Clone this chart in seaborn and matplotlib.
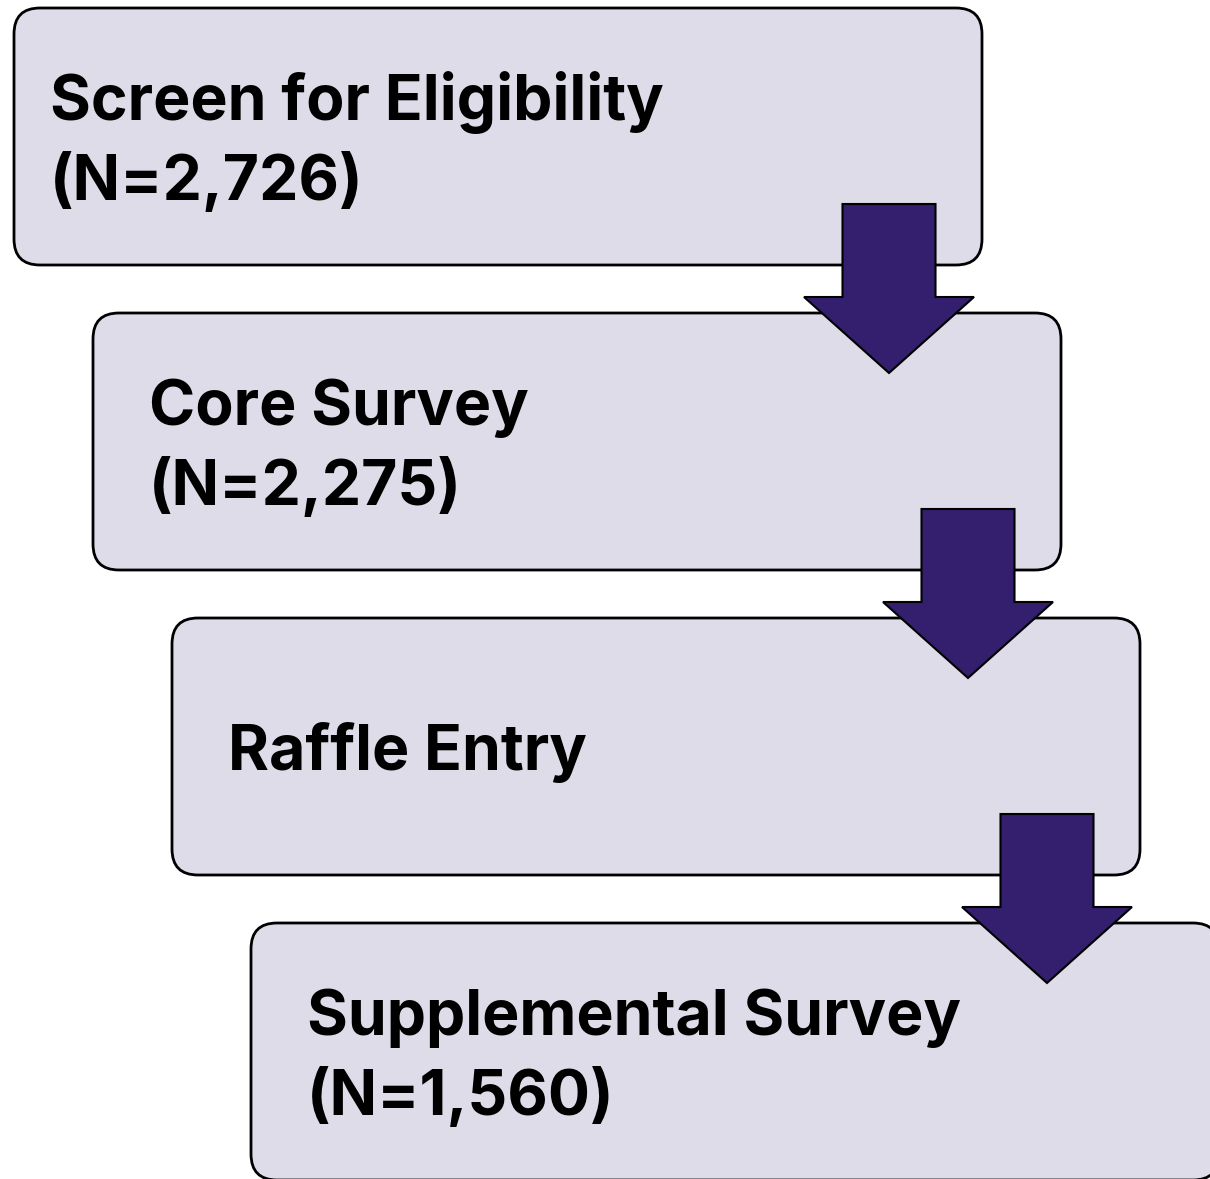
import matplotlib
matplotlib.use("Agg")
import matplotlib.pyplot as plt
import seaborn as sns
from matplotlib.patches import FancyBboxPatch, Polygon

# flow steps and participant counts (None = no count shown)
steps = ["Screen for Eligibility", "Core Survey", "Raffle Entry", "Supplemental Survey"]
counts = [2726, 2275, None, 1560]

box_fill = "#DEDCE8"
arrow_fill = "#341E6E"

sns.set_theme(style="white")
plt.rcParams["font.family"] = ["Inter", "DejaVu Sans"]

fig, ax = plt.subplots(figsize=(12.1, 11.79), dpi=100)
ax.set_position([0, 0, 1, 1])
ax.set_xlim(0, 1210)
ax.set_ylim(1179, 0)
ax.axis("off")

# layout in pixel units
x0, y0 = 14, 8
box_w, box_h = 968, 257
dx, dy = 79, 305
radius = 26
line_gap = 80
cap = 47

for i, (step, n) in enumerate(zip(steps, counts)):
    left = x0 + i * dx
    top = y0 + i * dy
    box = FancyBboxPatch((left + radius, top + radius), box_w - 2 * radius, box_h - 2 * radius,
                         boxstyle=f"round,pad={radius}", facecolor=box_fill,
                         edgecolor="black", linewidth=2, zorder=1)
    ax.add_patch(box)

    lines = [step] if n is None else [step, f"(N={n:,})"]
    pad = 36 if i == 0 else 56
    cy = top + box_h / 2
    for j, line in enumerate(lines):
        base = cy + (j - (len(lines) - 1) / 2) * line_gap + cap / 2
        ax.text(left + pad, base, line, ha="left", va="baseline",
                fontsize=45, fontweight="bold", color="black", zorder=3)

# block arrows between consecutive boxes
shaft_w, head_w, head_h, shaft_len = 93, 170, 76, 93
for i in range(len(steps) - 1):
    left = x0 + i * dx
    top = y0 + i * dy
    cx = left + box_w - 93
    sy = top + box_h - 61
    hy = sy + shaft_len
    pts = [(cx - shaft_w / 2, sy), (cx + shaft_w / 2, sy), (cx + shaft_w / 2, hy),
           (cx + head_w / 2, hy), (cx, hy + head_h), (cx - head_w / 2, hy),
           (cx - shaft_w / 2, hy)]
    ax.add_patch(Polygon(pts, closed=True, facecolor=arrow_fill,
                         edgecolor="black", linewidth=1.5, zorder=2))

fig.savefig("out.png", dpi=100)
